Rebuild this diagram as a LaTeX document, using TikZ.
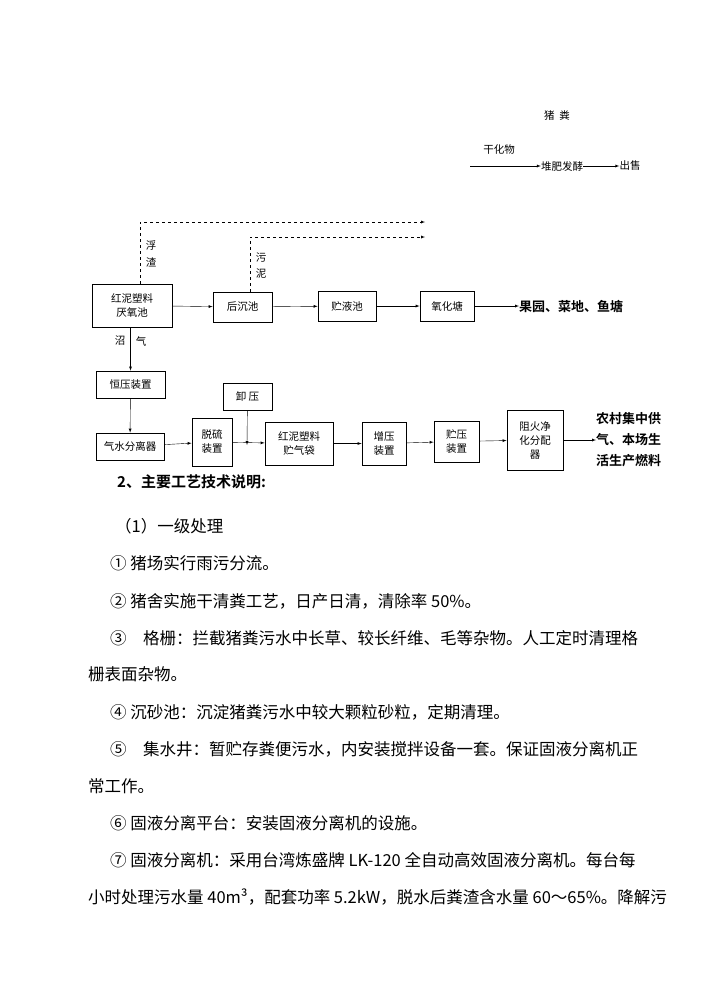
\documentclass[tikz,border=0pt]{standalone}
\usepackage{fontspec}
\setmainfont{Noto Sans CJK SC}
\newfontfamily\cjkb{Noto Sans CJK SC Bold}
\begin{document}
\begin{tikzpicture}[x=1pt,y=-1pt,
  bx/.style={draw,thick,fill=white,inner sep=0pt,font=\fontsize{10.5}{14}\selectfont,align=center},
  lbl/.style={inner sep=0pt,font=\fontsize{10.5}{14}\selectfont},
  ar/.style={-latex,thin},
  dar/.style={-latex,thin,dashed},
  bt/.style={inner sep=0pt,anchor=west,font=\fontsize{16.5}{18}\selectfont}]
\useasboundingbox (0,0) rectangle (703,994);
% top
\node[lbl] (zf) at (557,115) {猪\ \ 粪};
\node[lbl] (ghw) at (499,150) {干化物};
\coordinate (gs) at (470,166);
\node[lbl] (df) at (562,166) {堆肥发酵};
\node[lbl] (cs) at (630,166) {出售};
\draw[ar] (gs) -- (df.west);
\draw[ar] (df.east) -- (cs.west);
% row 1
\node[bx,minimum width=80,minimum height=43] (yy) at (132,305.5) {红泥塑料\\厌氧池};
\node[bx,minimum width=59,minimum height=30] (hc) at (242.5,307) {后沉池};
\node[bx,minimum width=58,minimum height=30] (zy) at (347,306) {贮液池};
\node[bx,minimum width=54,minimum height=30] (yh) at (447,306) {氧化塘};
\node[inner sep=0pt,anchor=west,font=\cjkb\fontsize{13}{16}\selectfont] (gy) at (519,306) {果园、菜地、鱼塘};
\draw[ar] (yy) -- (hc);
\draw[ar] (hc) -- (zy);
\draw[ar] (zy) -- (yh);
\draw[ar] (yh) -- (gy);
\coordinate (d1) at (425,222);
\coordinate (d2) at (425,237);
\draw[dar] (yy.north -| 140,0) |- (d1);
\draw[dar] (hc.north -| 250,0) |- (d2);
\node[lbl] (fz1) at (151,245) {浮};
\node[lbl] (fz2) at (151,262) {渣};
\node[lbl] (wn1) at (261,258) {污};
\node[lbl] (wn2) at (261,274) {泥};
% gas
\node[lbl] (zq1) at (120,341) {沼};
\node[lbl] (zq2) at (141,341) {气};
\node[bx,minimum width=69,minimum height=27] (hy) at (130.5,384.5) {恒压装置};
\node[bx,minimum width=68,minimum height=27] (qs) at (130,446.5) {气水分离器};
\node[bx,minimum width=40,minimum height=48] (tl) at (212,442) {脱硫\\装置};
\node[bx,minimum width=49,minimum height=27] (xy) at (247.5,396.5) {卸\ 压};
\node[bx,minimum width=68,minimum height=43] (zq) at (299,443.5) {红泥塑料\\贮气袋};
\node[bx,minimum width=44,minimum height=43] (zy2) at (384,443.5) {增压\\装置};
\node[bx,minimum width=45,minimum height=41] (zyz) at (456.5,441.5) {贮压\\装置};
\node[bx,minimum width=56,minimum height=60] (zh) at (535,440) {阻火净\\化分配\\器};
\node[inner sep=0pt,anchor=west,align=left,font=\cjkb\fontsize{13}{21}\selectfont] (nc) at (596,440) {农村集中供\\气、本场生\\活生产燃料};
\draw[ar] (yy.south -| hy.north) -- (hy);
\draw[ar] (hy) -- (qs);
\draw[ar] (qs) -- (tl);
\draw[ar] (tl) -- (zq);
\coordinate (xj) at (247,445);
\draw[ar] (xy) -- (xj);
\draw[ar] (zq) -- (zy2);
\draw[ar] (zy2) -- (zyz);
\draw[ar] (zyz) -- (zh);
\draw[ar] (zh) -- (nc);
% body text
\node[bt,font=\cjkb\fontsize{15}{18}\selectfont] (t0) at (117,482) {2、主要工艺技术说明:};
\node[bt] (t1) at (115,526) {（1）一级处理};
\node[bt] (t2) at (110,563) {① 猪场实行雨污分流。};
\node[bt] (t3) at (110,601) {② 猪舍实施干清粪工艺，日产日清，清除率 50\%。};
\node[bt] (t4) at (110,638) {③\quad 格栅：拦截猪粪污水中长草、较长纤维、毛等杂物。人工定时清理格};
\node[bt] (t5) at (88,674) {栅表面杂物。};
\node[bt] (t6) at (110,712) {④ 沉砂池：沉淀猪粪污水中较大颗粒砂粒，定期清理。};
\node[bt] (t7) at (110,749) {⑤\quad 集水井：暂贮存粪便污水，内安装搅拌设备一套。保证固液分离机正};
\node[bt] (t8) at (88,786) {常工作。};
\node[bt] (t9) at (110,823) {⑥ 固液分离平台：安装固液分离机的设施。};
\node[bt] (t10) at (110,860) {⑦ 固液分离机：采用台湾炼盛牌 LK-120 全自动高效固液分离机。每台每};
\node[bt] (t11) at (88,897) {小时处理污水量 40m³，配套功率 5.2kW，脱水后粪渣含水量 60～65\%。降解污};
\end{tikzpicture}
\end{document}
